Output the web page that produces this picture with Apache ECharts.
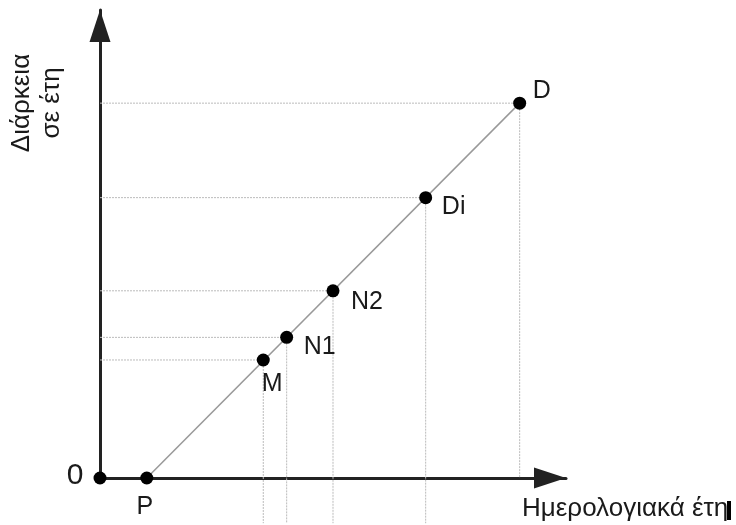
<!DOCTYPE html>
<html>
<head>
<meta charset="utf-8">
<script src="https://cdn.jsdelivr.net/npm/echarts@6/dist/echarts.min.js"></script>
<style>html,body{margin:0;padding:0;background:#fff}#c{width:736px;height:525px}</style>
</head>
<body>
<div id="c"></div>
<script>
// ---- data ----
const pointNames = ['0', 'P', 'M', 'N1', 'N2', 'Di', 'D'];
const xValues    = [0, 10.4, 36.3, 41.5, 51.8, 72.4, 93.3];
const yValues    = [0, 0, 26.1, 31.1, 41.4, 62.0, 82.9];
// where each vertical guide line stops (below the x axis for most points)
const dropEnds   = [null, null, -10, -10, -10, -10, 0];
const xAxisTitle = 'Ημερολογιακά έτη';
const yAxisTitle = 'Διάρκεια\nσε έτη';

// ---- styles / label placement ----
const labelOffsets = [[-25, -2], [-2, 29], [9, 24], [33, 10], [34, 11], [28, 9], [22, -12]];
const labelSizes   = [30, 25, 25, 25, 25, 25, 25];
const FONT = '"Liberation Sans", Arial, sans-serif';

const chart = echarts.init(document.getElementById('c'), null, {renderer: 'canvas'});

const series = [];
// diagonal line from P to D
const iP = 1, iD = pointNames.length - 1;
series.push({
  type: 'line', silent: true, symbol: 'none', clip: false, z: 3,
  data: [[xValues[iP], yValues[iP]], [xValues[iD], yValues[iD]]],
  lineStyle: {color: '#999', width: 1.5}
});
// dotted guides
for (let i = 2; i < pointNames.length; i++) {
  series.push({
    type: 'line', silent: true, symbol: 'none', clip: false, z: 1,
    data: [[0, yValues[i]], [xValues[i], yValues[i]]],
    lineStyle: {color: '#bbb', width: 1, type: [2, 1]}
  });
  series.push({
    type: 'line', silent: true, symbol: 'none', clip: false, z: 1,
    data: [[xValues[i], yValues[i]], [xValues[i], dropEnds[i]]],
    lineStyle: {color: '#bbb', width: 1, type: [2, 1]}
  });
}
// points
series.push({
  type: 'scatter', silent: true, clip: false, z: 5,
  symbolSize: 13,
  itemStyle: {color: '#000', opacity: 1},
  data: pointNames.map((n, i) => ({
    value: [xValues[i], yValues[i]],
    name: n,
    label: {
      show: true, formatter: n, position: 'inside',
      offset: labelOffsets[i], fontSize: labelSizes[i],
      color: '#1a1a1a', fontFamily: FONT
    }
  }))
});

const axisLine = {
  show: true, symbol: ['none', 'path://M0,0L10.5,32L-10.5,32Z'], symbolSize: [21, 32],
  symbolOffset: [0, -16],
  lineStyle: {color: '#222', width: 3}
};

chart.setOption({
  animation: false,
  backgroundColor: '#fff',
  grid: {left: 100, top: 10, width: 466, height: 468},
  xAxis: {
    type: 'value', min: 0, max: 103.6,
    axisLine: axisLine, axisTick: {show: false}, axisLabel: {show: false}, splitLine: {show: false}
  },
  yAxis: {
    type: 'value', min: 0, max: 103.5,
    axisLine: axisLine, axisTick: {show: false}, axisLabel: {show: false}, splitLine: {show: false}
  },
  graphic: [
    {
      type: 'text', x: 522, y: 509,
      style: {text: xAxisTitle, font: '26px ' + FONT, fill: '#1a1a1a', textVerticalAlign: 'middle'}
    },
    {
      type: 'rect', shape: {x: 727, y: 501, width: 4, height: 19}, style: {fill: '#000'}
    },
    {
      type: 'text', x: 37, y: 103, rotation: Math.PI / 2,
      style: {text: yAxisTitle, font: '26px ' + FONT, fill: '#1a1a1a',
              textAlign: 'center', textVerticalAlign: 'middle', lineHeight: 30}
    }
  ],
  series: series
});
</script>
</body>
</html>
